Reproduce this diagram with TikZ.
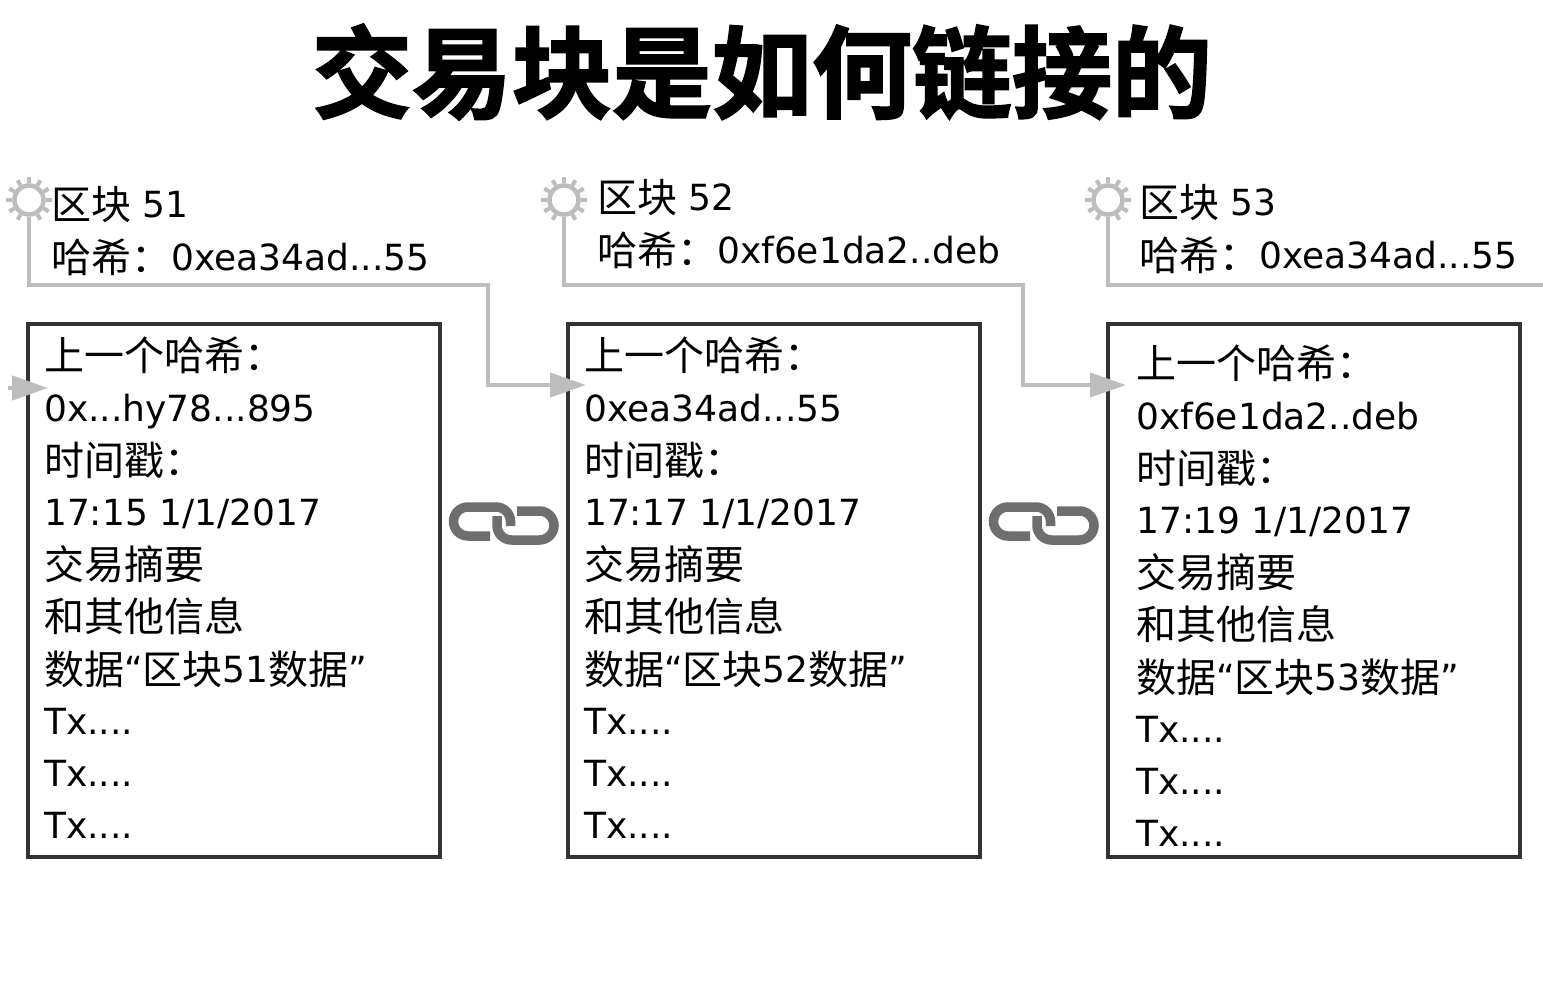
\documentclass[tikz,border=0pt]{standalone}
\usepackage{fontspec}
\usetikzlibrary{arrows.meta}
\setmainfont{DejaVu Sans}
\newfontfamily\cjk[Scale=1.111]{Noto Sans CJK SC}
\newfontfamily\cjktitle[FakeBold=2]{Noto Sans CJK SC Bold}
\newcommand{\cj}[1]{\raisebox{-2pt}{\cjk #1}}
\definecolor{linkgray}{HTML}{BDBDBD}
\definecolor{boxdark}{HTML}{333333}
\definecolor{chaingray}{HTML}{6E6E6E}
\tikzset{
  blockbox/.style={draw=boxdark,line width=4pt,fill=white,minimum width=412pt,minimum height=533pt,anchor=north west,inner sep=0pt,outer sep=0pt},
  blocktext/.style={anchor=north west,inner sep=0pt,align=left,font=\fontsize{36}{52.2}\selectfont},
  headtext/.style={anchor=west,inner sep=0pt,font=\fontsize{36}{40}\selectfont},
  gearnode/.style={circle,draw=linkgray,line width=4.5pt,minimum size=29pt,inner sep=0pt},
  hashlink/.style={draw=linkgray,line width=4.5pt},
  hasharrow/.style={hashlink,-{Triangle[length=36pt,width=24pt]}},
  chainlink/.style={draw=chaingray,line width=9.5pt,rounded corners=14.5pt}
}
\newcommand{\blocklines}[3]{%
\cj{上一个哈希：}\\#1\\\cj{时间戳：}\\#2\\\cj{交易摘要}\\\cj{和其他信息}\\\cj{数据}“\cj{区块}#3\cj{数据}”\\Tx....\\Tx....\\Tx....}
\begin{document}
\begin{tikzpicture}[x=1pt,y=-1pt]
\useasboundingbox[fill=white] (0,0) rectangle (1543,1008);
% title
\node[inner sep=0pt,font=\fontsize{100}{110}\selectfont\cjktitle] (title) at (762,72) {交易块是如何链接的};
% blocks
\node[blockbox] (box51) at (28,324) {};
\node[blockbox] (box52) at (568,324) {};
\node[blockbox] (box53) at (1108,324) {};
\node[blocktext] (text51) at (44,337) {\blocklines{0x...hy78...895}{17:15 1/1/2017}{51}};
\node[blocktext] (text52) at (584,337) {\blocklines{0xea34ad...55}{17:17 1/1/2017}{52}};
\node[blocktext] (text53) at (1136,345) {\blocklines{0xf6e1da2..deb}{17:19 1/1/2017}{53}};
% block headers
\node[headtext] (name51) at (51,205) {\cj{区块} 51};
\node[headtext] (hash51) at (51,257) {\cj{哈希：}0xea34ad...55};
\node[headtext] (name52) at (597,198) {\cj{区块} 52};
\node[headtext] (hash52) at (597,250) {\cj{哈希：}0xf6e1da2..deb};
\node[headtext] (name53) at (1139,203) {\cj{区块} 53};
\node[headtext] (hash53) at (1139,255) {\cj{哈希：}0xea34ad...55};
% gears
\foreach \g/\x in {51/29,52/564,53/1108}{
  \node[gearnode] (gear\g) at (\x,200) {};
  \foreach \a in {0,30,...,330}
    \draw[linkgray,line width=4pt] (gear\g.\a) -- ++(\a:6pt);
}
% hash connectors
\coordinate (in50a) at (8,388);
\coordinate (in50b) at (48,388);
\coordinate (turn51) at (488,285);
\coordinate (in52) at (586,385);
\coordinate (turn52) at (1023,285);
\coordinate (in53) at (1126,385);
\coordinate (out53) at (1543,285);
\draw[hasharrow] (in50a) -- (in50b);
\draw[hasharrow] (gear51.south) |- (turn51) |- (in52);
\draw[hasharrow] (gear52.south) |- (turn52) |- (in53);
\draw[hashlink] (gear53.south) |- (out53);
% chain links
\foreach \d in {0,540}{
  \draw[chainlink] (490+\d,536) -- (453.5+\d,536) -- (453.5+\d,507) -- (510.5+\d,507) -- (510.5+\d,526);
  \draw[chainlink] (517+\d,511) -- (554+\d,511) -- (554+\d,540) -- (497+\d,540) -- (497+\d,516);
}
\end{tikzpicture}
\end{document}
